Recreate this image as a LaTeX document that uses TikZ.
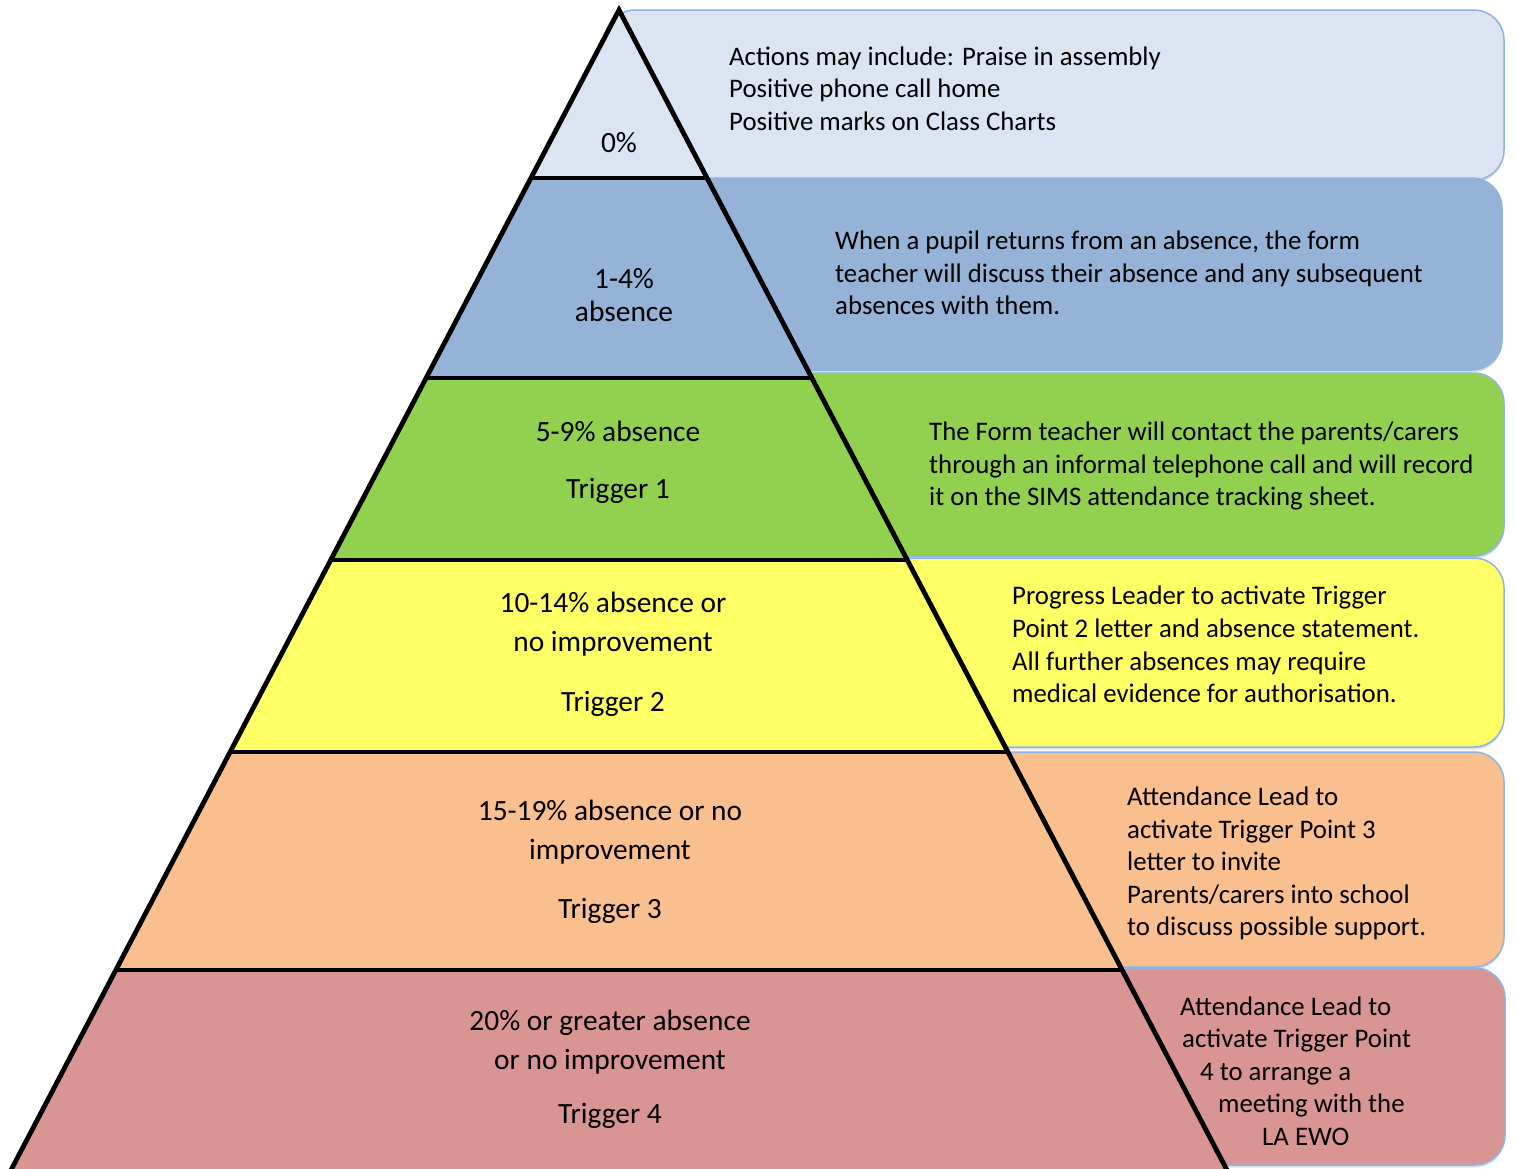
\documentclass[tikz,border=0pt]{standalone}
\usepackage{fontspec}
\setmainfont{Carlito}
\usetikzlibrary{shadows}
\definecolor{cA}{HTML}{DBE5F1}
\definecolor{cB}{HTML}{95B3D7}
\definecolor{cC}{HTML}{92D050}
\definecolor{cD}{HTML}{FFFF66}
\definecolor{cE}{HTML}{F9BF8F}
\definecolor{cF}{HTML}{D99594}
\definecolor{bord}{HTML}{8EB4E3}
\begin{document}
\begin{tikzpicture}[x=1pt,y=-1pt,
  box/.style={draw=bord, line width=1.5pt, rounded corners=30pt,
    drop shadow={opacity=0.25, shadow xshift=0pt, shadow yshift=-2.5pt}},
  btxt/.style={anchor=west, align=left, font=\fontsize{26.8}{32.6}\selectfont, inner sep=0pt},
  ptxt/.style={align=center, font=\fontsize{29.4}{39}\selectfont, inner sep=0pt}]
\useasboundingbox (0,0) rectangle (1515,1168);
\clip (0,0) rectangle (1515,1168);
% boxes
\draw[box, fill=cA] (605,10) rectangle (1504,180);
\draw[box, fill=cB] (560,178) rectangle (1502,370);
\draw[box, fill=cC] (500,373) rectangle (1504,556);
\draw[box, fill=cD] (400,558) rectangle (1504,747);
\draw[box, fill=cE] (300,752) rectangle (1504,967);
\draw[box, fill=cF] (200,968) rectangle (1505,1165);
% pyramid points
\coordinate (A) at (619,10);
\coordinate (L1) at (530.8,178);  \coordinate (R1) at (707.2,178);
\coordinate (L2) at (425.8,378);  \coordinate (R2) at (812.2,378);
\coordinate (L3) at (330.25,560); \coordinate (R3) at (907.75,560);
\coordinate (L4) at (229.45,752); \coordinate (R4) at (1008.55,752);
\coordinate (L5) at (115,970);    \coordinate (R5) at (1123,970);
\coordinate (L6) at (-11.5,1213);  \coordinate (R6) at (1249.5,1213);
% tiers
\fill[cA] (A) -- (R1) -- (L1) -- cycle;
\fill[cB] (L1) -- (R1) -- (R2) -- (L2) -- cycle;
\fill[cC] (L2) -- (R2) -- (R3) -- (L3) -- cycle;
\fill[cD] (L3) -- (R3) -- (R4) -- (L4) -- cycle;
\fill[cE] (L4) -- (R4) -- (R5) -- (L5) -- cycle;
\fill[cF] (L5) -- (R5) -- (R6) -- (L6) -- cycle;
\draw[line width=4.8pt] (L1) -- (R1) (L2) -- (R2) (L3) -- (R3) (L4) -- (R4) (L5) -- (R5);
\draw[line width=4.8pt, line join=miter, miter limit=10] (L6) -- (A) -- (R6);
% pyramid text
\node[ptxt] (p0) at (619,143) {0\%};
\node[ptxt, font=\fontsize{29.4}{33}\selectfont] (p1) at (624,295.5) {1-4\%\\absence};
\node[ptxt] (p2a) at (618,431) {5-9\% absence};
\node[ptxt] (p2b) at (618,491) {Trigger 1};
\node[ptxt] (p3a) at (613,624.5) {10-14\% absence or\\no improvement};
\node[ptxt] (p3b) at (613,704) {Trigger 2};
\node[ptxt] (p4a) at (610,832) {15-19\% absence or no\\improvement};
\node[ptxt] (p4b) at (610,911) {Trigger 3};
\node[ptxt] (p5a) at (610,1042.5) {20\% or greater absence\\or no improvement};
\node[ptxt] (p5b) at (610,1116) {Trigger 4};
% box text
\node[btxt] (t1) at (729,88.5) {Actions may include: Praise in assembly\\Positive phone call home\\Positive marks on Class Charts};
\node[btxt] (t2) at (835,273) {When a pupil returns from an absence, the form\\teacher will discuss their absence and any subsequent\\absences with them.};
\node[btxt] (t3) at (929,466) {The Form teacher will contact the parents/carers\\through an informal telephone call and will record\\it on the SIMS attendance tracking sheet.};
\node[btxt] (t4) at (1012,644.5) {Progress Leader to activate Trigger\\Point 2 letter and absence statement.\\All further absences may require\\medical evidence for authorisation.};
\node[btxt] (t5) at (1127,863.5) {Attendance Lead to\\activate Trigger Point 3\\letter to invite\\Parents/carers into school\\to discuss possible support.};
\node[btxt] (t6) at (1180,1071) {Attendance Lead to\\\hspace*{2pt}activate Trigger Point\\\hspace*{20pt}4 to arrange a\\\hspace*{38pt}meeting with the\\\hspace*{82pt}LA EWO};
\end{tikzpicture}
\end{document}
